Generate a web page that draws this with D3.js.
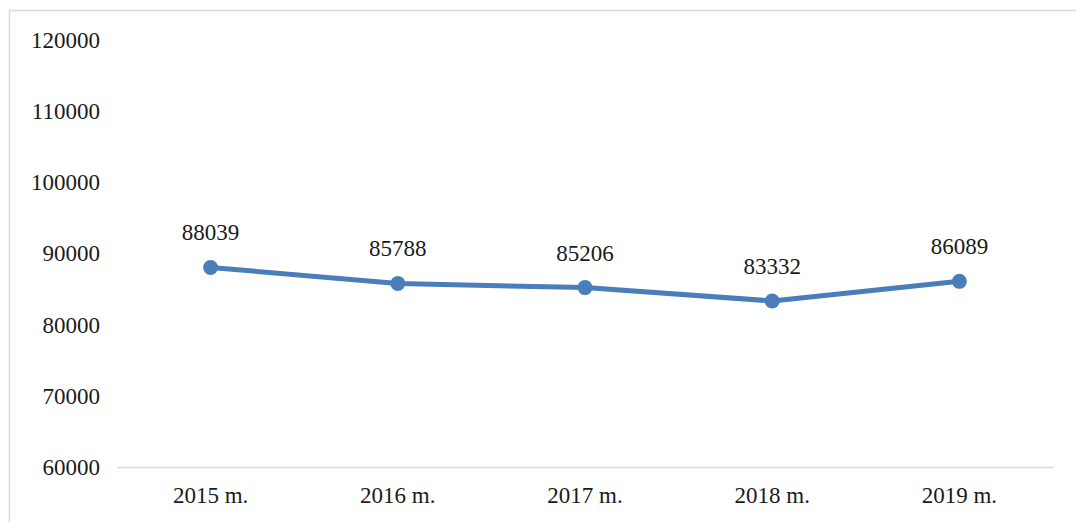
<!DOCTYPE html>
<html>
<head>
<meta charset="utf-8">
<script src="https://cdn.jsdelivr.net/npm/d3@7"></script>
<style>
  body { margin: 0; background: #fff; }
  svg text { font-family: "Liberation Serif", "Times New Roman", Times, serif; fill: #1a1a1a; }
</style>
</head>
<body>
<div class="chart"></div>
<script>
const years = ["2015 m.", "2016 m.", "2017 m.", "2018 m.", "2019 m."];
const values = [88039, 85788, 85206, 83332, 86089];
const yTicks = [60000, 70000, 80000, 90000, 100000, 110000, 120000];

function drawChart() {
    const W = 1076, H = 522;
    const margin = { top: 40, right: 23, bottom: 55, left: 117 };
    const width = W - margin.left - margin.right;
    const height = H - margin.top - margin.bottom;

    const svg = d3.select("div.chart").append("svg")
        .attr("width", W)
        .attr("height", H);

    // frame (cut off at right and bottom as in the original)
    svg.append("rect")
        .attr("x", 9.5).attr("y", 10.5)
        .attr("width", W + 20).attr("height", H + 20)
        .attr("fill", "none")
        .attr("stroke", "#d9d9d9")
        .attr("stroke-width", 1.5);

    const g = svg.append("g")
        .attr("transform", `translate(${margin.left},${margin.top})`);

    const x = d3.scaleBand().domain(years).range([0, width]);
    const y = d3.scaleLinear().domain([60000, 120000]).range([height, 0]);

    // y axis, labels only
    const yAxis = g.append("g")
        .call(d3.axisLeft(y).tickValues(yTicks).tickSize(0).tickPadding(17).tickFormat(d3.format("d")));
    yAxis.attr("font-family", null);
    yAxis.select(".domain").remove();
    yAxis.selectAll("text")
        .style("font-size", "23px")
        .attr("fill", "#1a1a1a");

    // x axis
    const xAxis = g.append("g")
        .attr("transform", `translate(0,${height})`)
        .call(d3.axisBottom(x).tickSize(0).tickPadding(20));
    xAxis.attr("font-family", null);
    xAxis.select(".domain").attr("stroke", "#d9d9d9").attr("stroke-width", 1.5);
    xAxis.selectAll("text")
        .style("font-size", "23px")
        .attr("fill", "#1a1a1a");

    const cx = (d, i) => x(years[i]) + x.bandwidth() / 2;

    // line
    const line = d3.line()
        .x((d, i) => cx(d, i))
        .y(d => y(d));
    g.append("path")
        .datum(values)
        .attr("fill", "none")
        .attr("stroke", "#4a7ebb")
        .attr("stroke-width", 5)
        .attr("stroke-linejoin", "round")
        .attr("d", line);

    // markers
    g.selectAll(".dot")
        .data(values)
        .enter().append("circle")
        .attr("cx", cx)
        .attr("cy", d => y(d))
        .attr("r", 7.5)
        .attr("fill", "#4a7ebb");

    // value labels
    g.selectAll(".lbl")
        .data(values)
        .enter().append("text")
        .attr("x", cx)
        .attr("y", d => y(d) - 27)
        .attr("text-anchor", "middle")
        .style("font-size", "23px")
        .text(d => d);
}

drawChart();
</script>
</body>
</html>
